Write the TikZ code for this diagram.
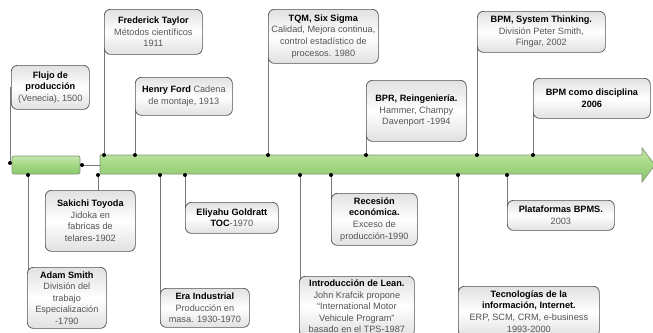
\documentclass[tikz,border=0pt]{standalone}
\usepackage{fontspec}
\setmainfont{Liberation Sans}
\usetikzlibrary{backgrounds}
\definecolor{boxline}{RGB}{80,80,80}
\definecolor{boxedge}{RGB}{225,225,225}
\definecolor{bodygray}{RGB}{85,85,85}
\definecolor{connline}{RGB}{120,120,120}
\definecolor{greentop}{RGB}{196,232,172}
\definecolor{greenmid}{RGB}{162,214,130}
\definecolor{greenbot}{RGB}{140,200,108}
\definecolor{greenline}{RGB}{130,150,118}
\newcommand\evtitle[1]{\textbf{\color{black}#1}}
\begin{document}
\begin{tikzpicture}[x=1bp,y=-1bp,
  evt/.style={draw=boxline, line width=0.7bp, rounded corners=6bp,
    top color=boxedge, bottom color=boxedge, middle color=white,
    align=center, anchor=north west, inner sep=1bp,
    font=\fontsize{9.2}{11.6}\selectfont, text=bodygray},
  conn/.style={draw=connline, line width=0.6bp},
  dot/.style={fill=black},
  band/.style={draw=greenline, line width=0.7bp, top color=greentop,
    bottom color=greenbot, middle color=greenmid}]
\useasboundingbox (0,0) rectangle (653,332);

% anchor points on the time bars
\coordinate (tFlujo) at (10,163);
\coordinate (tTaylor) at (104,155);
\coordinate (tFord) at (135,155);
\coordinate (tTQM) at (268,155);
\coordinate (tBPR) at (366,155);
\coordinate (tBPMst) at (477,155);
\coordinate (tBPMd) at (533,155);
\coordinate (bSmith) at (28,175);
\coordinate (bToyoda) at (98,175);
\coordinate (bEra) at (160,175);
\coordinate (bGold) at (185,175);
\coordinate (bLean) at (300,175);
\coordinate (bRec) at (331,175);
\coordinate (bTIC) at (458,175);
\coordinate (bPlat) at (507,175);
\coordinate (lA) at (82,165);
\coordinate (lB) at (100,165);

% event boxes above the line
\node[evt, minimum width=78bp, minimum height=44bp] (flujo) at (11,65)
  {\evtitle{Flujo de}\\\evtitle{producción}\\(Venecia), 1500};
\node[evt, minimum width=98bp, minimum height=45bp] (taylor) at (104,9)
  {\evtitle{Frederick Taylor}\\Métodos científicos\\1911};
\node[evt, minimum width=97bp, minimum height=38bp] (ford) at (135,77)
  {\evtitle{Henry Ford} Cadena\\de montaje, 1913};
\node[evt, minimum width=110bp, minimum height=54bp] (tqm) at (268,9)
  {\evtitle{TQM, Six Sigma}\\Calidad, Mejora continua,\\control estadístico de\\procesos. 1980};
\node[evt, minimum width=100bp, minimum height=61bp] (bpr) at (366,80)
  {\evtitle{BPR, Reingeniería.}\\Hammer, Champy\\Davenport -1994};
\node[evt, minimum width=128bp, minimum height=41bp] (bpmst) at (477,11)
  {\evtitle{BPM, System Thinking.}\\División Peter Smith,\\Fingar, 2002};
\node[evt, minimum width=117bp, minimum height=40bp] (bpmd) at (533,78)
  {\evtitle{BPM como disciplina}\\\evtitle{2006}};

% event boxes below the line
\node[evt, minimum width=90bp, minimum height=61bp] (toyoda) at (45,190)
  {\evtitle{Sakichi Toyoda}\\Jidoka en\\fabricas de\\telares-1902};
\node[evt, minimum width=79bp, minimum height=61bp] (smith) at (27,267)
  {\evtitle{Adam Smith}\\División del\\trabajo\\Especialización\\-1790};
\node[evt, minimum width=93bp, minimum height=31bp] (gold) at (185,202)
  {\evtitle{Eliyahu Goldratt}\\\evtitle{TOC}-1970};
\node[evt, minimum width=89bp, minimum height=39bp] (era) at (160,288)
  {\evtitle{Era Industrial}\\Producción en\\masa. 1930-1970};
\node[evt, minimum width=86bp, minimum height=52bp] (rec) at (331,193)
  {\evtitle{Recesión}\\\evtitle{económica.}\\Exceso de\\producción-1990};
\node[evt, minimum width=115bp, minimum height=60bp] (lean) at (299,276)
  {\evtitle{Introducción de Lean.}\\John Krafcik propone\\“International Motor\\Vehicule Program”\\basado en el TPS-1987};
\node[evt, minimum width=107bp, minimum height=30bp] (plat) at (507,200)
  {\evtitle{Plataformas BPMS.}\\2003};
\node[evt, minimum width=141bp, minimum height=50bp] (tic) at (458,286)
  {\evtitle{Tecnologías de la}\\\evtitle{información, Internet.}\\ERP, SCM, CRM, e-business\\1993-2000};

\begin{scope}[on background layer]
  % time bars
  \draw[band, rounded corners=2bp] (12,156) rectangle (80,174);
  \draw[band] (100,155) -- (642,155) -- (642,148) -- (655,165)
    -- (642,182) -- (642,174) -- (100,174) -- cycle;
  % connectors from the events to the bars
  \draw[conn] (tFlujo) -- (tFlujo |- flujo.center);
  \draw[conn] (tTaylor) -- (tTaylor |- taylor.center);
  \draw[conn] (tFord) -- (tFord |- ford.center);
  \draw[conn] (tTQM) -- (tTQM |- tqm.center);
  \draw[conn] (tBPR) -- (tBPR |- bpr.center);
  \draw[conn] (tBPMst) -- (tBPMst |- bpmst.center);
  \draw[conn] (tBPMd) -- (tBPMd |- bpmd.center);
  \draw[conn] (bSmith) -- (bSmith |- smith.center);
  \draw[conn] (bToyoda) -- (bToyoda |- toyoda.center);
  \draw[conn] (bEra) -- (bEra |- era.center);
  \draw[conn] (bGold) -- (bGold |- gold.center);
  \draw[conn] (bLean) -- (bLean |- lean.center);
  \draw[conn] (bRec) -- (bRec |- rec.center);
  \draw[conn] (bTIC) -- (bTIC |- tic.center);
  \draw[conn] (bPlat) -- (bPlat |- plat.center);
  \draw[conn] (lA) -- (lB);
\end{scope}

% junction dots
\foreach \p in {tFlujo,tTaylor,tFord,tTQM,tBPR,tBPMst,tBPMd,
                bSmith,bToyoda,bEra,bGold,bLean,bRec,bTIC,bPlat,lA}
  \fill[dot] (\p) circle (2bp);
\end{tikzpicture}
\end{document}
